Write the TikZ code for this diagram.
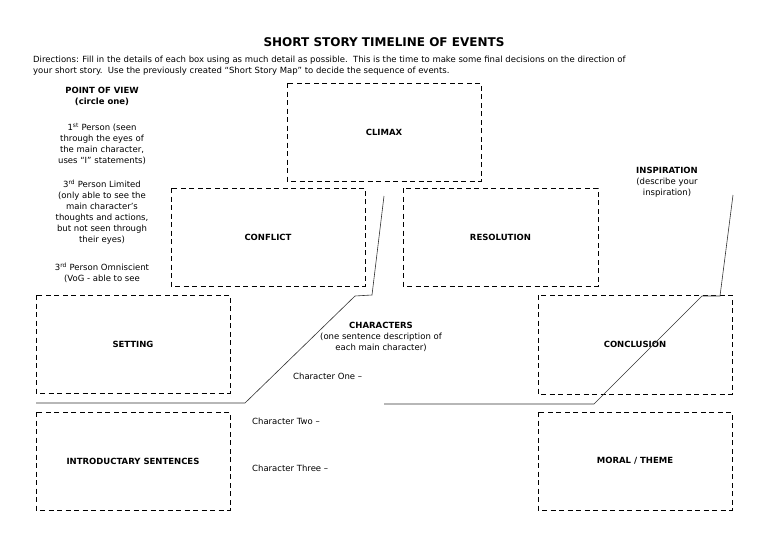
\documentclass[tikz,border=0pt]{standalone}
\usepackage{fontspec}
\setmainfont{DejaVu Sans}
\begin{document}
\begin{tikzpicture}[x=1pt,y=-1pt,
  box/.style={draw,dash pattern=on 5pt off 3.5pt,line width=0.7pt},
  lbl/.style={font=\fontsize{8.5}{11}\selectfont\bfseries},
  txt/.style={font=\fontsize{8.5}{11}\selectfont,align=center,inner sep=0pt},
  tl/.style={draw,line width=0.6pt,black!80}]
\useasboundingbox (0,0) rectangle (768,543);
\fill[white] (0,0) rectangle (768,543);
\node[font=\fontsize{12}{14}\selectfont\bfseries] (title) at (384,42) {SHORT STORY TIMELINE OF EVENTS};
\node[txt,anchor=west,align=left] (dir) at (33,66) {Directions: Fill in the details of each box using as much detail as possible.\ \ This is the time to make some final decisions on the direction of\\your short story.\ \ Use the previously created ``Short Story Map'' to decide the sequence of events.};
\draw[box] (287,83) rectangle (481,181) node[pos=.5,lbl] (climax) {CLIMAX};
\draw[box] (171,188) rectangle (365,286) node[pos=.5,lbl] (conflict) {CONFLICT};
\draw[box] (403,188) rectangle (598,286) node[pos=.5,lbl] (resol) {RESOLUTION};
\draw[box] (36,295) rectangle (230,393) node[pos=.5,lbl] (setting) {SETTING};
\draw[box] (538,295) rectangle (732,394) node[pos=.5,lbl] (concl) {CONCLUSION};
\draw[box] (36,412) rectangle (230,510) node[pos=.5,lbl] (intro) {INTRODUCTARY SENTENCES};
\draw[box] (538,412) rectangle (732,510) node[pos=.5,lbl] (moral) {MORAL / THEME};
\coordinate (a1) at (384,196); \coordinate (a2) at (372,295); \coordinate (a3) at (355,296);
\coordinate (a4) at (245,403); \coordinate (a5) at (36,403);
\draw[tl] (a1) -- (a2) -- (a3) -- (a4) -- (a5);
\coordinate (b1) at (733,195); \coordinate (b2) at (720,296); \coordinate (b3) at (702,296);
\coordinate (b4) at (594,404); \coordinate (b5) at (384,404);
\draw[tl] (b1) -- (b2) -- (b3) -- (b4) -- (b5);
\node[txt,anchor=north] (pov) at (102,87) {\textbf{POINT OF VIEW}\\\textbf{(circle one)}};
\node[txt,anchor=north] (p1) at (102,123) {1\textsuperscript{st} Person (seen\\through the eyes of\\the main character,\\uses ``I'' statements)};
\node[txt,anchor=north] (p2) at (102,180) {3\textsuperscript{rd} Person Limited\\(only able to see the\\main character's\\thoughts and actions,\\but not seen through\\their eyes)};
\node[txt,anchor=north] (p3) at (102,263) {3\textsuperscript{rd} Person Omniscient\\(VoG - able to see};
\node[txt,anchor=north] (chars) at (381,322) {\textbf{CHARACTERS}\\(one sentence description of\\each main character)};
\node[txt,anchor=west] (c1) at (293,376) {Character One --};
\node[txt,anchor=west] (c2) at (252,421) {Character Two --};
\node[txt,anchor=west] (c3) at (252,468) {Character Three --};
\node[txt,anchor=north] (insp) at (667,167) {\textbf{INSPIRATION}\\(describe your\\inspiration)};
\end{tikzpicture}
\end{document}
